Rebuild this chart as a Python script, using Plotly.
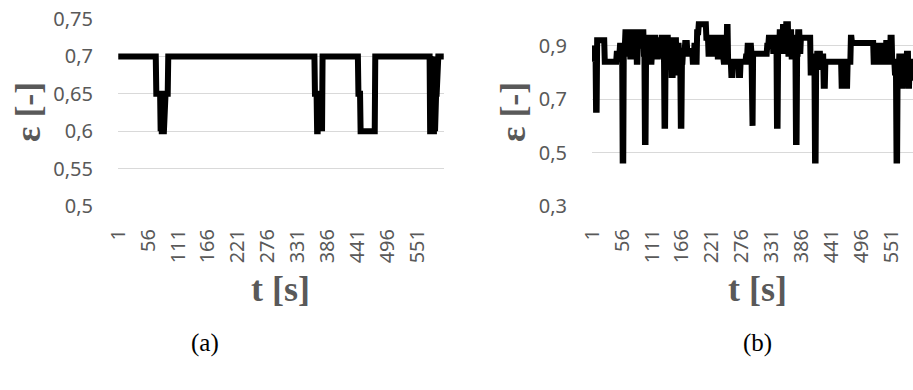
import numpy as np
import plotly.graph_objects as go

# Porosity ε over time, stored as runs of (value, number of seconds)
eps_a_values = [0.70, 0.65, 0.60, 0.65, 0.60, 0.65, 0.60, 0.65, 0.60, 0.65,
                0.70, 0.65, 0.60, 0.65, 0.60, 0.65, 0.60,
                0.70, 0.65, 0.60,
                0.70, 0.60, 0.70, 0.60, 0.65, 0.60, 0.70, 0.60, 0.65, 0.70, 0.65, 0.70]
eps_a_counts = [70, 8, 1, 1, 2, 1, 2, 1, 1, 5,
                270, 4, 2, 1, 3, 1, 3,
                66, 4, 27,
                101, 2, 1, 2, 1, 2, 1, 1, 3, 1, 1, 11]

eps_b_values = [0.84, 0.90, 0.84, 0.90, 0.88, 0.66, 0.92, 0.84, 0.87, 0.90,
                0.47, 0.90, 0.95, 0.87, 0.95, 0.86, 0.95, 0.88, 0.93, 0.84,
                0.95, 0.90, 0.95, 0.87, 0.54, 0.87, 0.86, 0.93, 0.84, 0.88,
                0.93, 0.86, 0.92, 0.88, 0.93, 0.86, 0.60, 0.88, 0.93, 0.84,
                0.92, 0.79, 0.88, 0.92, 0.80, 0.90, 0.84, 0.60, 0.84, 0.88,
                0.91, 0.87, 0.88, 0.84, 0.90, 0.84, 0.95, 0.98, 0.93, 0.87,
                0.93, 0.87, 0.93, 0.86, 0.93, 0.86, 0.84, 0.97, 0.84, 0.79,
                0.84, 0.79, 0.84, 0.86, 0.90, 0.84, 0.90, 0.87, 0.60, 0.87,
                0.90, 0.93, 0.88, 0.93, 0.60, 0.88, 0.95, 0.88, 0.97, 0.90,
                0.98, 0.87, 0.95, 0.86, 0.93, 0.86, 0.54, 0.87, 0.95, 0.88,
                0.93, 0.80, 0.86, 0.80, 0.47, 0.82, 0.87, 0.82, 0.86, 0.75,
                0.84, 0.75, 0.84, 0.75, 0.84, 0.93, 0.91, 0.84, 0.90, 0.84,
                0.90, 0.84, 0.90, 0.84, 0.91, 0.84, 0.93, 0.84, 0.80, 0.47,
                0.80, 0.86, 0.84, 0.75, 0.86, 0.84, 0.87, 0.75, 0.84, 0.80,
                0.78, 0.82]
eps_b_counts = [1, 1, 1, 1, 3, 2, 14, 22, 6, 5,
                2, 3, 4, 2, 3, 2, 4, 3, 3, 2,
                4, 3, 4, 2, 2, 3, 3, 3, 2, 4,
                3, 4, 4, 3, 3, 2, 2, 2, 3, 3,
                3, 3, 3, 3, 2, 3, 3, 2, 2, 4,
                4, 5, 5, 3, 3, 2, 3, 14, 4, 3,
                5, 3, 6, 3, 5, 3, 6, 2, 6, 3,
                11, 3, 10, 3, 3, 2, 2, 1, 2, 26,
                3, 8, 3, 4, 2, 3, 4, 2, 4, 2,
                4, 3, 3, 2, 3, 3, 2, 2, 3, 2,
                18, 3, 3, 2, 2, 2, 6, 3, 3, 3,
                30, 3, 5, 3, 6, 2, 40, 3, 3, 4,
                3, 3, 3, 4, 5, 3, 3, 5, 3, 2,
                3, 3, 2, 2, 3, 4, 3, 2, 3, 4,
                4, 5]

t_ticks = [1, 56, 111, 166, 221, 276, 331, 386, 441, 496, 551]

eps_a = np.repeat(eps_a_values, eps_a_counts)
eps_b = np.repeat(eps_b_values, eps_b_counts)
t_a = np.arange(1, len(eps_a) + 1)
t_b = np.arange(1, len(eps_b) + 1)

W, H = 913, 390
GRAY = "#595959"
GRID = "#d9d9d9"
CLEAR = "rgba(0,0,0,0)"
TICK_FONT = dict(family="Noto Sans", size=20, color=GRAY)
TITLE_FONT = dict(family="Liberation Serif", size=36, color=GRAY)


def px(v):
    return v / W


def py(v):
    return 1 - v / H


fig = go.Figure()
fig.add_trace(go.Scatter(x=t_a, y=eps_a, mode="lines", xaxis="x", yaxis="y",
                         line=dict(color="black", width=6),
                         showlegend=False, hoverinfo="skip"))
fig.add_trace(go.Scatter(x=t_b, y=eps_b, mode="lines", xaxis="x2", yaxis="y2",
                         line=dict(color="black", width=6),
                         showlegend=False, hoverinfo="skip"))

# invisible tick marks push the labels away from the plot area
xcommon = dict(tickmode="array", tickvals=t_ticks, ticktext=[str(v) for v in t_ticks],
               tickangle=-90, tickfont=TICK_FONT, showgrid=False, zeroline=False,
               showline=False, ticks="outside", ticklen=14, tickcolor=CLEAR,
               automargin=False)
ycommon = dict(tickfont=TICK_FONT, showgrid=True, gridcolor=GRID, gridwidth=1.3,
               zeroline=False, showline=False, ticks="outside", ticklen=20,
               tickcolor=CLEAR, automargin=False)

fig.update_layout(
    width=W, height=H,
    margin=dict(l=0, r=0, t=0, b=0),
    paper_bgcolor="white", plot_bgcolor="white",
    xaxis=dict(domain=[px(118), px(444)], range=[0.5, 600.5], anchor="y", **xcommon),
    yaxis=dict(domain=[py(206), py(19)], range=[0.5, 0.75],
               tickvals=[0.5, 0.55, 0.6, 0.65, 0.7, 0.75],
               ticktext=["0,5", "0,55", "0,6", "0,65", "0,7", "0,75"], anchor="x", **ycommon),
    xaxis2=dict(domain=[px(592), 1.0], range=[0.5, 591.3], anchor="y2", **xcommon),
    yaxis2=dict(domain=[py(206), 1.0], range=[0.3, 1.071], tickvals=[0.3, 0.5, 0.7, 0.9],
                ticktext=["0,3", "0,5", "0,7", "0,9"], anchor="x2", **ycommon),
)

annotations = [
    dict(text="<b>t [s]</b>", x=px(280), y=py(289), font=TITLE_FONT),
    dict(text="<b>t [s]</b>", x=px(757), y=py(289), font=TITLE_FONT),
    dict(text="<b>ε [-]</b>", x=px(28), y=py(112), font=TITLE_FONT, textangle=-90),
    dict(text="<b>ε [-]</b>", x=px(513), y=py(112), font=TITLE_FONT, textangle=-90),
    dict(text="(a)", x=px(205), y=py(343), font=dict(family="Liberation Serif", size=25, color="black")),
    dict(text="(b)", x=px(757), y=py(343), font=dict(family="Liberation Serif", size=25, color="black")),
]
for a in annotations:
    fig.add_annotation(xref="paper", yref="paper", showarrow=False,
                       xanchor="center", yanchor="middle", **a)

fig.write_html("out.html")
